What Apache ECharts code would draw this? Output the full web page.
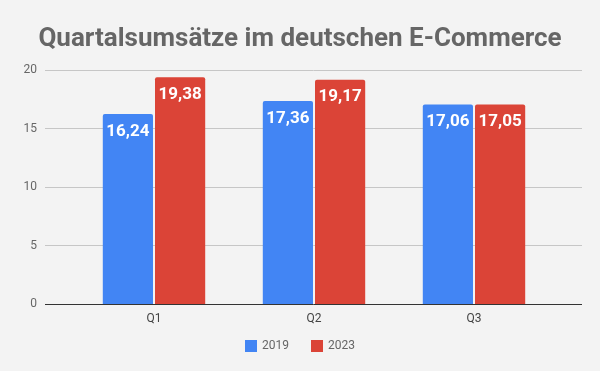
<!DOCTYPE html>
<html><head><meta charset="utf-8">
<script src="https://cdn.jsdelivr.net/npm/echarts@6/dist/echarts.min.js"></script>
<style>html,body{margin:0;padding:0;background:#f3f3f3}#c{width:600px;height:371px}</style>
</head><body><div id="c"></div>
<script>
const categories = ['Q1', 'Q2', 'Q3'];
const seriesNames = ['2019', '2023'];
const values2019 = [16.24, 17.36, 17.06];
const values2023 = [19.38, 19.17, 17.05];
const yTicks = [0, 5, 10, 15, 20];

const chart = echarts.init(document.getElementById('c'), null, {renderer: 'canvas'});
const fmt = v => v.toFixed(2).replace('.', ',');
const labelCfg = {show: true, position: 'insideTop', distance: 9, color: '#fff', fontFamily: 'Roboto', fontWeight: 'bold', fontSize: 17, formatter: p => fmt(p.value)};
chart.setOption({
  backgroundColor: '#f3f3f3',
  animation: false,
  title: {text: 'Quartalsumsätze im deutschen E-Commerce', left: 'center', top: 21,
    textStyle: {fontFamily: 'Roboto', fontWeight: 'bold', fontSize: 26, color: '#666'}},
  legend: {bottom: 14, left: 'center', itemWidth: 12, itemHeight: 12, itemGap: 22,
    icon: 'rect', textStyle: {fontFamily: 'Roboto', fontSize: 12, color: '#666'}, data: seriesNames},
  grid: [
    {left: 45, right: 18, top: 70, bottom: 67},
    {left: 74, right: 46, top: 70, bottom: 67}
  ],
  xAxis: [
    {gridIndex: 0, type: 'category', data: categories, show: false},
    {gridIndex: 1, type: 'category', data: categories, axisTick: {show: false}, axisLine: {show: false},
      axisLabel: {fontFamily: 'Roboto', fontSize: 12, color: '#444', margin: 9}}
  ],
  yAxis: [
    {gridIndex: 0, type: 'value', min: yTicks[0], max: yTicks[yTicks.length-1], interval: 5,
      axisLine: {show: false}, axisTick: {show: false},
      axisLabel: {fontFamily: 'Roboto', fontSize: 12, color: '#666', margin: 8},
      splitLine: {lineStyle: {color: '#c6c6c6', width: 1}}},
    {gridIndex: 1, type: 'value', min: yTicks[0], max: yTicks[yTicks.length-1], interval: 5, show: false}
  ],
  series: [
    {name: seriesNames[0], type: 'bar', xAxisIndex: 1, yAxisIndex: 1, data: values2019, barGap: '4%', barCategoryGap: '36%',
      itemStyle: {color: '#4285f4', borderRadius: [2,2,0,0]}, label: labelCfg},
    {name: seriesNames[1], type: 'bar', xAxisIndex: 1, yAxisIndex: 1, data: values2023,
      itemStyle: {color: '#db4437', borderRadius: [2,2,0,0]}, label: labelCfg},
    {type: 'line', xAxisIndex: 0, yAxisIndex: 0, data: [], silent: true,
      markLine: {silent: true, symbol: 'none', label: {show: false}, lineStyle: {color: '#333', width: 1, type: 'solid'}, data: [{yAxis: 0}]}}
  ]
});
</script></body></html>
